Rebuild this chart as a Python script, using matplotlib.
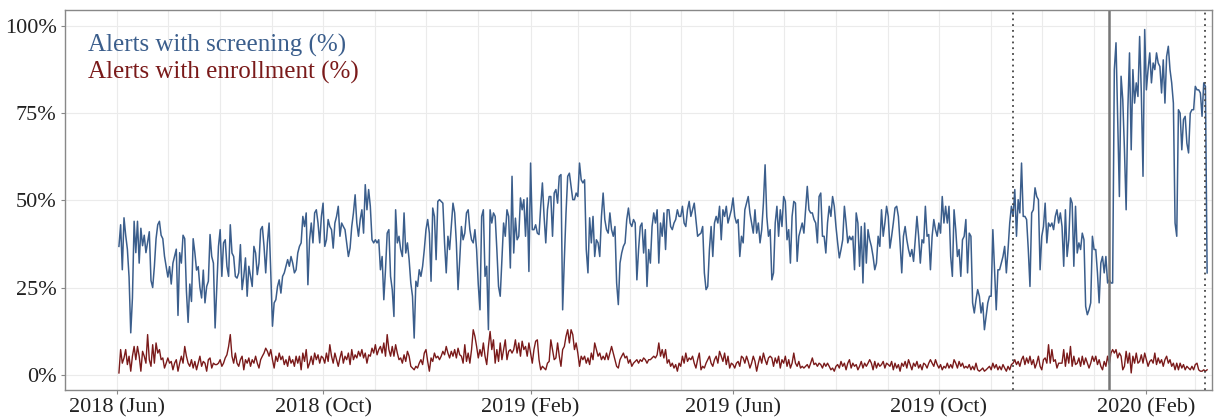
import numpy as np
import pandas as pd
import matplotlib
matplotlib.use("Agg")
import matplotlib.pyplot as plt
import matplotlib.dates as mdates
from matplotlib.ticker import FuncFormatter

# daily share of alerts (%), starting 2018-06-02
screening = [
    36.8, 43.0, 30.1, 45.0, 40.0, 36.0, 28.0, 12.0, 22.0, 44.0,
    35.0, 44.0, 32.0, 42.0, 37.0, 40.0, 35.0, 38.0, 41.0, 27.0,
    25.0, 31.0, 39.0, 43.0, 44.0, 40.0, 39.0, 34.0, 31.0, 28.0,
    31.0, 26.0, 32.0, 34.0, 36.0, 17.0, 35.0, 32.0, 40.0, 39.0,
    24.0, 15.0, 26.0, 21.0, 39.0, 35.0, 30.0, 31.0, 25.0, 22.0,
    30.0,
    # Aug - Sep 2018
    20.6, 25.3, 26.8, 40.2, 33.9, 32.0, 13.4, 25.3, 36.8, 41.6,
    28.2, 37.8, 38.7, 31.1, 28.2, 43.0, 34.9, 33.9, 28.2, 27.7,
    29.2, 37.3, 24.4, 28.2, 33.5, 22.5, 31.1, 28.2, 25.3, 36.8,
    34.9, 28.7, 32.0, 41.6, 42.5, 36.8, 29.2, 37.8, 43.5, 29.2,
    13.9, 20.6, 21.5, 25.3, 27.2, 23.4, 28.2, 29.2, 31.1, 33.0,
    31.1, 33.9, 32.0, 29.2, 30.1, 34.9,
    # Sep - Nov 2018
    36.8, 37.8, 45.4, 42.5, 46.4, 25.8, 38.7, 43.5, 37.8, 46.4,
    47.3, 43.5, 37.8, 45.4, 49.2, 36.8, 38.7, 44.5, 42.5, 41.6,
    36.3, 43.5, 45.4, 48.3, 39.7, 43.5, 42.5, 41.6, 37.8, 33.9,
    36.3, 42.5, 46.4, 51.6, 43.5, 39.7, 44.5, 47.3, 40.6, 54.5,
    47.3, 53.1, 48.3, 38.7, 37.8, 38.7, 37.8, 38.7, 30.1, 33.9,
    21.5, 30.1, 40.6, 41.6, 28.2, 24.4, 16.7,
    # Nov 2018 - Jan 2019
    47.3, 37.8, 39.7, 35.9, 33.9, 46.4, 34.9, 37.8, 33.0, 26.3,
    22.5, 10.5, 26.8, 25.3, 30.1, 28.2, 31.1, 35.9, 41.6, 44.5,
    40.6, 26.8, 47.8, 45.4, 33.0, 49.7, 50.2, 49.7, 49.2, 37.8,
    29.2, 39.7, 35.9, 42.5, 49.2, 46.4, 37.8, 24.4, 33.0, 42.5,
    38.7, 40.6, 46.4, 47.3, 41.6, 38.7, 37.8, 41.6, 35.9,
    25.8, 18.6, 45.4, 47.3, 28.2, 31.1, 12.9,
    # Jan - Mar 2019
    47.3, 43.5, 46.4, 45.4, 35.9, 25.3, 22.5, 33.0, 43.5, 39.7,
    47.3, 45.4, 30.6, 56.9, 34.9, 44.9, 38.7, 39.7, 50.7, 47.3,
    50.2, 39.7, 50.7, 29.6, 60.7, 41.6, 41.6, 43.0, 40.6, 40.2,
    48.3, 55.0, 45.4, 37.8, 47.3, 51.1, 51.1, 39.7, 52.1, 53.1,
    49.2, 56.9, 57.4, 18.6, 33.0, 46.4, 56.9, 57.8, 54.0, 50.2,
    50.2, 52.1, 51.1, 60.7, 55.9, 55.0,
    # Mar - May 2019
    55.9, 35.9, 29.2, 45.0, 37.8, 45.4, 33.9, 38.7, 37.8, 33.9,
    45.4, 52.1, 44.5, 41.6, 40.6, 46.4, 41.6, 39.7, 42.5, 26.3,
    20.1, 32.0, 34.9, 36.8, 37.8, 44.5, 47.8, 43.5, 42.5, 44.5,
    43.5, 27.2, 35.9, 42.5, 43.5, 34.9, 41.6, 25.3, 35.9, 32.0,
    42.5, 46.4, 43.5, 47.3, 32.0, 43.5, 39.7, 46.4, 35.9, 47.3,
    47.3, 42.5, 41.6, 43.5, 44.5, 47.3, 45.4,
    # May - Jul 2019
    45.4, 48.3, 43.5, 42.5, 47.3, 49.7, 45.4, 47.3, 49.2, 44.5,
    39.7, 40.2, 40.6, 42.5, 29.2, 24.4, 25.3, 35.9, 42.5, 33.9,
    43.5, 45.4, 43.5, 48.3, 38.7, 47.3, 45.4, 48.3, 43.5, 45.4,
    47.3, 50.7, 45.4, 43.5, 44.5, 33.9, 39.7, 37.8, 47.3, 49.2,
    51.1, 46.4, 43.5, 40.6, 47.3, 40.6, 43.5, 37.8, 41.6, 49.2,
    60.2, 45.4, 39.7, 41.6, 27.2, 29.2,
    # Jul - Sep 2019
    43.5, 48.3, 39.7, 47.3, 42.5, 51.1, 49.7, 38.7, 41.6, 32.0,
    45.4, 49.7, 49.2, 32.5, 39.7, 41.6, 43.5, 40.6, 47.3, 54.0,
    47.3, 46.4, 46.4, 44.5, 43.5, 37.8, 51.1, 52.1, 39.7, 39.7,
    34.9, 43.5, 48.3, 45.4, 51.1, 48.3, 42.5, 37.8, 33.5, 35.9,
    38.7, 48.3, 43.5, 37.8, 39.7, 38.7, 39.7, 30.1, 46.4, 43.5,
    31.1, 42.5, 26.3, 43.5, 32.0, 41.6, 38.7,
    # Aug - Oct 2019
    36.8, 33.9, 30.1, 32.0, 39.7, 36.8, 47.3, 39.7, 43.5, 48.3,
    45.4, 36.3, 39.7, 43.5, 47.8, 48.3, 45.4, 37.8, 29.2, 39.7,
    42.5, 38.7, 35.9, 33.9, 35.9, 32.5, 38.7, 45.4, 39.7, 32.0,
    38.7, 37.8, 48.3, 39.7, 40.2, 30.1, 39.7, 44.5, 41.6, 39.7,
    43.5, 40.6, 51.1, 43.5, 48.3, 43.5, 48.3, 33.9, 28.2, 47.3,
    41.6, 33.9, 35.9, 28.2, 38.7, 39.7,
    # Oct - Dec 2019
    44.5, 29.2, 40.6, 39.7, 20.6, 17.7, 21.5, 24.4, 22.5, 17.7,
    20.6, 12.9, 16.7, 20.6, 22.5, 22.5, 41.6, 30.1, 18.6, 30.1,
    30.1, 32.0, 33.9, 36.8, 29.2, 35.9, 43.5, 48.3, 45.4, 53.1,
    39.7, 50.2, 46.4, 60.7, 45.4, 45.4, 44.5, 35.9, 25.3, 46.4,
    47.3, 53.6, 51.1, 50.2, 30.1, 39.7, 42.5, 49.2, 37.8, 43.5,
    42.5, 43.5, 41.6, 45.4, 47.3, 43.5, 46.4,
    # Dec 2019 - Jan 2020
    42.5, 31.1, 47.3, 33.9, 38.7, 50.7, 49.2, 31.1, 48.3, 34.9,
    37.8, 35.9, 40.6, 38.7, 19.6, 17.2, 18.6, 20.6, 39.7, 35.9,
    35.9, 29.2, 20.6, 32.0, 33.9, 29.2, 33.9, 26.3, 27.2, 26.3,
    26.3, 87.5, 95.2, 73.2, 51.1,
    # Jan - Mar 2020
    85.6, 78.9, 64.5, 47.3, 76.0, 92.3, 64.5, 87.5, 77.9, 83.7,
    79.8, 97.0, 80.8, 56.9, 99.0, 81.7, 87.5, 92.3, 83.7, 89.4,
    87.5, 92.3, 89.4, 88.4, 80.8, 90.3, 77.9, 91.3, 94.2, 87.5,
    83.7, 77.9, 43.5, 39.7, 76.0, 75.0, 64.5, 73.2, 74.1, 66.4,
    63.6, 75.0, 76.0, 76.0, 82.7, 81.7, 81.7, 80.8, 74.1, 83.7,
    82.7, 29.2,
]

enrollment = [
    0.5, 7.2, 3.3, 4.8, 7.2, 2.9, 5.3, 1.0, 5.3, 8.1,
    4.3, 8.1, 5.3, 1.0, 6.7, 5.3, 3.3, 11.5, 4.3, 2.4,
    8.6, 3.3, 9.1, 6.2, 7.2, 4.3, 4.8, 1.9, 3.3, 4.8,
    3.3, 3.8, 1.4, 3.3, 4.3, 1.0, 3.3, 5.3, 3.3, 8.1,
    5.3, 3.3, 2.4, 4.3, 1.9, 3.8, 1.4, 3.3, 5.3, 2.4,
    3.8,
    3.3, 1.0, 4.3, 4.8, 1.9, 3.3, 2.9, 2.9, 3.3, 4.3,
    2.4, 3.3, 4.8, 5.7, 8.1, 11.5, 5.3, 3.3, 6.2, 3.3,
    2.4, 4.3, 5.3, 1.4, 4.3, 3.3, 4.8, 2.4, 4.3, 3.3,
    5.3, 3.3, 1.9, 4.3, 5.3, 6.2, 7.6, 6.7, 5.3, 7.2,
    4.3, 1.9, 5.3, 3.8, 6.2, 4.3, 5.3, 2.9, 4.3, 2.4,
    5.3, 3.3, 4.3, 2.4, 5.3, 3.3,
    5.3, 1.4, 6.2, 3.8, 7.2, 1.9, 3.3, 5.3, 2.9, 6.2,
    4.3, 5.7, 3.3, 5.3, 4.8, 3.3, 6.2, 3.8, 8.6, 5.3,
    3.3, 6.2, 4.3, 2.4, 4.8, 6.7, 3.3, 5.3, 4.3, 6.2,
    2.9, 7.2, 4.3, 5.7, 4.8, 6.7, 5.3, 7.2, 4.8, 6.2,
    3.3, 5.7, 5.3, 7.6, 6.2, 8.6, 5.7, 7.2, 8.1, 6.2,
    9.1, 5.3, 11.5, 7.2, 5.3, 8.1, 5.3,
    8.6, 6.2, 4.3, 4.8, 3.3, 5.7, 3.8, 6.7, 5.3, 2.4,
    1.9, 1.4, 2.4, 1.9, 3.3, 4.3, 2.9, 6.2, 7.2, 3.8,
    1.0, 4.8, 3.8, 6.2, 4.8, 5.3, 4.3, 5.3, 6.7, 5.7,
    8.1, 6.2, 4.8, 6.7, 5.3, 7.2, 4.8, 7.6, 5.7, 5.3,
    3.3, 8.6, 3.8, 6.2, 3.3, 7.2, 12.9, 11.0, 8.1, 4.8,
    7.2, 5.3, 9.1, 5.3, 2.9, 8.1,
    12.4, 7.2, 10.0, 3.3, 7.2, 3.8, 9.1, 4.3, 7.2, 10.0,
    4.3, 6.7, 7.2, 6.2, 7.2, 10.0, 6.2, 9.1, 5.3, 9.6,
    7.2, 8.1, 5.3, 9.1, 6.2, 3.3, 7.2, 9.6, 10.0, 4.3,
    1.4, 2.4, 1.9, 1.4, 3.3, 3.8, 10.0, 7.2, 4.3, 4.8,
    9.1, 5.3, 2.4, 7.2, 8.1, 11.0, 12.9, 9.1, 12.9, 11.5,
    7.2, 9.1, 6.2, 2.4, 5.3, 4.3,
    5.3, 3.3, 4.8, 2.9, 6.2, 4.3, 9.1, 7.2, 5.3, 6.2,
    4.3, 5.3, 4.3, 6.2, 4.3, 6.2, 8.1, 6.2, 4.3, 2.4,
    1.9, 4.3, 5.3, 6.2, 4.8, 5.3, 3.3, 4.3, 2.4, 3.3,
    3.8, 4.3, 3.3, 4.3, 3.8, 4.8, 4.3, 3.3, 4.3, 4.3,
    4.8, 5.3, 4.8, 5.7, 9.1, 5.3, 7.2, 4.8, 7.2, 3.3,
    4.3, 2.4, 3.3, 1.9, 2.9, 1.0, 3.3,
    2.4, 5.3, 3.3, 6.2, 3.8, 4.8, 4.3, 5.3, 3.3, 1.9,
    4.3, 6.2, 1.4, 2.4, 1.9, 3.3, 4.3, 5.3, 3.3, 2.4,
    4.3, 5.3, 3.3, 6.7, 5.3, 3.8, 6.2, 2.9, 5.3, 1.9,
    3.3, 2.9, 1.9, 3.3, 3.8, 2.4, 5.3, 4.8, 3.3, 5.3,
    3.8, 1.9, 3.3, 5.3, 3.8, 1.0, 3.3, 5.3, 3.3, 6.2,
    4.3, 2.9, 4.8, 5.3, 4.8, 2.4,
    4.8, 3.3, 5.3, 1.9, 4.3, 3.3, 5.3, 2.4, 4.3, 1.9,
    3.3, 6.2, 3.3, 2.4, 3.8, 1.9, 2.4, 1.9, 2.4, 2.9,
    1.9, 3.3, 4.8, 2.9, 3.3, 2.4, 3.3, 2.9, 1.9, 3.3,
    2.4, 3.3, 2.4, 1.4, 1.9, 1.0, 2.4, 2.9, 1.9, 3.8,
    2.4, 3.3, 1.4, 3.3, 4.3, 1.9, 3.3, 2.4, 2.9, 1.4,
    2.4, 3.8, 1.9, 3.3, 2.4, 3.3, 4.3,
    3.3, 1.4, 3.8, 1.9, 3.3, 2.4, 2.9, 3.8, 1.9, 3.3,
    2.9, 2.4, 3.8, 1.4, 3.3, 1.9, 2.9, 1.0, 3.3, 2.4,
    3.8, 1.9, 4.3, 2.9, 1.4, 3.3, 2.4, 3.8, 1.9, 2.9,
    1.4, 3.3, 2.9, 1.9, 3.3, 4.3, 3.3, 2.4, 4.3, 2.9,
    1.9, 2.9, 1.4, 2.4, 1.9, 3.3, 1.9, 2.9, 1.9, 4.3,
    3.3, 1.9, 3.8, 2.4, 3.3, 1.9,
    2.4, 1.9, 2.9, 1.4, 2.4, 1.4, 3.3, 1.4, 1.0, 1.4,
    1.9, 1.0, 1.4, 1.9, 2.4, 1.4, 3.3, 1.9, 2.9, 1.4,
    2.4, 1.4, 2.9, 1.9, 1.0, 2.4, 1.4, 2.9, 3.3, 4.3,
    2.9, 3.8, 2.4, 4.3, 5.3, 2.9, 4.8, 3.3, 5.3, 2.9,
    4.3, 1.9, 3.3, 5.3, 2.4, 1.4, 4.3, 4.8, 3.3, 8.6,
    3.3, 7.2, 3.8, 4.3, 1.9, 3.3, 3.3,
    3.3, 7.2, 2.4, 6.2, 3.3, 8.1, 2.4, 5.3, 2.9, 3.3,
    4.8, 2.4, 5.3, 2.9, 4.8, 3.3, 1.9, 3.3, 5.3, 3.8,
    5.3, 2.9, 4.3, 2.4, 1.4, 3.8, 2.4, 5.3, 2.9, 6.2,
    7.2, 6.2, 7.2, 4.8, 6.2,
    5.3, 1.4, 2.4, 6.7, 3.3, 6.2, 0.5, 5.3, 3.3, 6.2,
    3.3, 3.8, 5.7, 3.3, 6.2, 4.3, 2.4, 3.8, 4.3, 3.3,
    6.2, 2.9, 4.8, 3.3, 4.3, 2.4, 4.3, 5.3, 3.3, 4.3,
    2.4, 3.3, 1.4, 3.3, 1.4, 3.3, 1.9, 2.9, 1.4, 2.4,
    1.9, 1.4, 2.4, 1.4, 2.9, 3.3, 1.4, 1.0, 1.0, 1.4,
    1.0, 1.4,
]

start_date = "2018-06-02"
dates = pd.date_range(start_date, periods=len(screening), freq="D")

# event markers
dotted_events = ["2019-11-14", "2020-03-07"]
solid_event = "2020-01-10"

tick_dates = ["2018-06-01", "2018-10-01", "2019-02-01",
              "2019-06-01", "2019-10-01", "2020-02-01"]

blue = "#3b5e8c"
red = "#7a1a1a"
serif = ["Liberation Serif", "DejaVu Serif"]

fig = plt.figure(figsize=(12.14, 4.17), dpi=100)
ax = fig.add_axes([0.0535, 0.0647, 0.945, 0.9113])

ax.plot(dates, screening, color=blue, lw=1.1)
ax.plot(dates, enrollment, color=red, lw=1.0)

for d in dotted_events:
    ax.axvline(pd.Timestamp(d), color="#444444", lw=1.3, ls=(0, (1, 2.2)))
ax.axvline(pd.Timestamp(solid_event), color="#777777", lw=1.8)

ax.set_xlim(pd.Timestamp("2018-05-01"), pd.Timestamp("2020-03-11"))
ax.set_ylim(-4.4, 104.6)

ax.set_xticks([pd.Timestamp(d) for d in tick_dates])
ax.xaxis.set_major_formatter(mdates.DateFormatter("%Y (%b)"))
ax.xaxis.set_minor_locator(mdates.MonthLocator())
ax.set_yticks([0, 25, 50, 75, 100])
ax.yaxis.set_major_formatter(FuncFormatter(lambda v, p: f"{v:.0f}%"))

ax.grid(which="both", color="#ebebeb", lw=0.8)
ax.set_axisbelow(True)
ax.tick_params(which="major", length=3, color="#888888", labelsize=16, pad=3)
ax.tick_params(which="minor", length=0)
for lab in ax.get_xticklabels() + ax.get_yticklabels():
    lab.set_family(serif)
    lab.set_color("#222222")
for s in ax.spines.values():
    s.set_color("#888888")
    s.set_linewidth(1.0)

ax.text(0.02, 0.907, "Alerts with screening (%)", transform=ax.transAxes,
        color=blue, fontsize=18, family=serif, va="center")
ax.text(0.02, 0.836, "Alerts with enrollment (%)", transform=ax.transAxes,
        color=red, fontsize=18, family=serif, va="center")

fig.savefig("out.png", dpi=100)
